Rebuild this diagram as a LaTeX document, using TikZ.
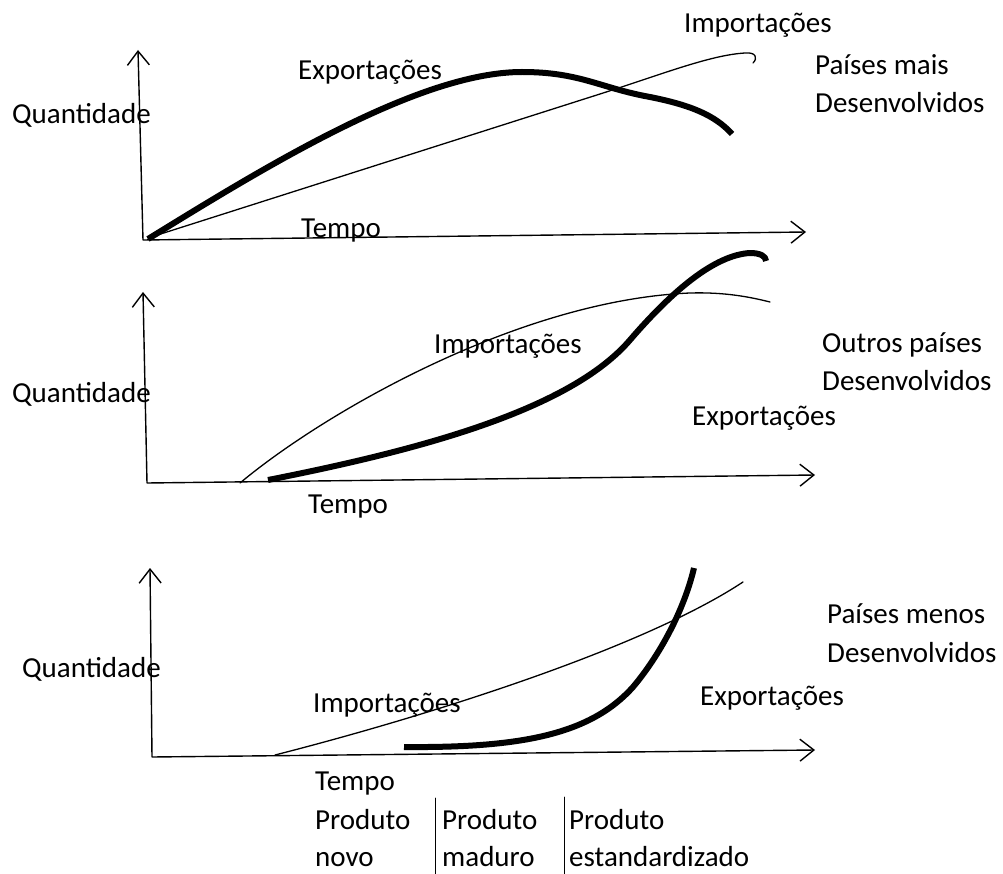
\documentclass[tikz,border=0pt]{standalone}
\usepackage{fontspec}
\setmainfont{Carlito}
\usetikzlibrary{arrows.meta}
\begin{document}
\begin{tikzpicture}[x=1pt, y=-1pt, line join=round, line cap=round, font=\fontsize{29}{34}\selectfont,
	>={Straight Barb[length=14pt,width=22pt]},
	eixo/.style={line width=1.4pt,<->},
	imp/.style={line width=1.3pt},
	exp/.style={line width=6pt,line cap=butt},
	rot/.style={anchor=base west,inner sep=0pt}]
	\useasboundingbox (0,0) rectangle (1003,874);
	% paises mais desenvolvidos
	\coordinate (y1) at (138,50); \coordinate (o1) at (143,240); \coordinate (x1) at (806,232);
	\draw[eixo] (y1)--(o1)--(x1);
	\draw[imp] (148,238) -- (600,94) .. controls (660,75) and (710,55) .. (745,53) .. controls (756,52) and (758,58) .. (753,63);
	\draw[exp] (148,239) .. controls (268,165) and (420,72) .. (522,72) .. controls (580,72) and (600,88) .. (650,97) .. controls (690,105) and (715,115) .. (732,134);
	\node[rot] (q1) at (12,124) {Quantidade};
	\node[rot] (ex1) at (298,80) {Exportações};
	\node[rot] (im1) at (684,33) {Importações};
	\node[rot] (t1) at (301,238) {Tempo};
	\node[rot] (p1) at (815,75) {Países mais};
	\node[rot] (d1) at (815,113) {Desenvolvidos};
	% outros paises desenvolvidos
	\coordinate (y2) at (143,292); \coordinate (o2) at (147,483); \coordinate (x2) at (815,475);
	\draw[eixo] (y2)--(o2)--(x2);
	\draw[imp] (240,483) .. controls (325,412) and (520,300) .. (690,293) .. controls (725,292) and (750,297) .. (770,302);
	\draw[exp] (268,480) .. controls (420,450) and (570,410) .. (630,340) .. controls (673,290) and (715,255) .. (750,253) .. controls (760,253) and (766,256) .. (766,261);
	\node[rot] (q2) at (12,402) {Quantidade};
	\node[rot] (im2) at (434,353) {Importações};
	\node[rot] (ex2) at (692,425) {Exportações};
	\node[rot] (t2) at (308,513) {Tempo};
	\node[rot] (p2) at (822,352) {Outros países};
	\node[rot] (d2) at (822,390) {Desenvolvidos};
	% paises menos desenvolvidos
	\coordinate (y3) at (150,568); \coordinate (o3) at (152,757); \coordinate (x3) at (815,750);
	\draw[eixo] (y3)--(o3)--(x3);
	\draw[imp] (275,755) .. controls (420,718) and (640,650) .. (743,582);
	\draw[exp] (404,747) .. controls (520,748) and (590,735) .. (633,687) .. controls (660,655) and (684,610) .. (694,568);
	\node[rot] (q3) at (22,677) {Quantidade};
	\node[rot] (im3) at (313,712) {Importações};
	\node[rot] (ex3) at (700,705) {Exportações};
	\node[rot] (t3) at (315,790) {Tempo};
	\node[rot] (p3) at (827,623) {Países menos};
	\node[rot] (d3) at (827,662) {Desenvolvidos};
	% fases do produto
	\node[rot] (n1) at (315,829) {Produto};
	\node[rot] (n2) at (315,866) {novo};
	\node[rot] (m1) at (442,829) {Produto};
	\node[rot] (m2) at (442,866) {maduro};
	\node[rot] (s1) at (569,829) {Produto};
	\node[rot] (s2) at (569,866) {estandardizado};
	\coordinate (a1) at (435,798); \coordinate (a2) at (435,874);
	\coordinate (b1) at (564,797); \coordinate (b2) at (564,874);
	\draw[line width=1pt] (a1)--(a2) (b1)--(b2);
\end{tikzpicture}
\end{document}
